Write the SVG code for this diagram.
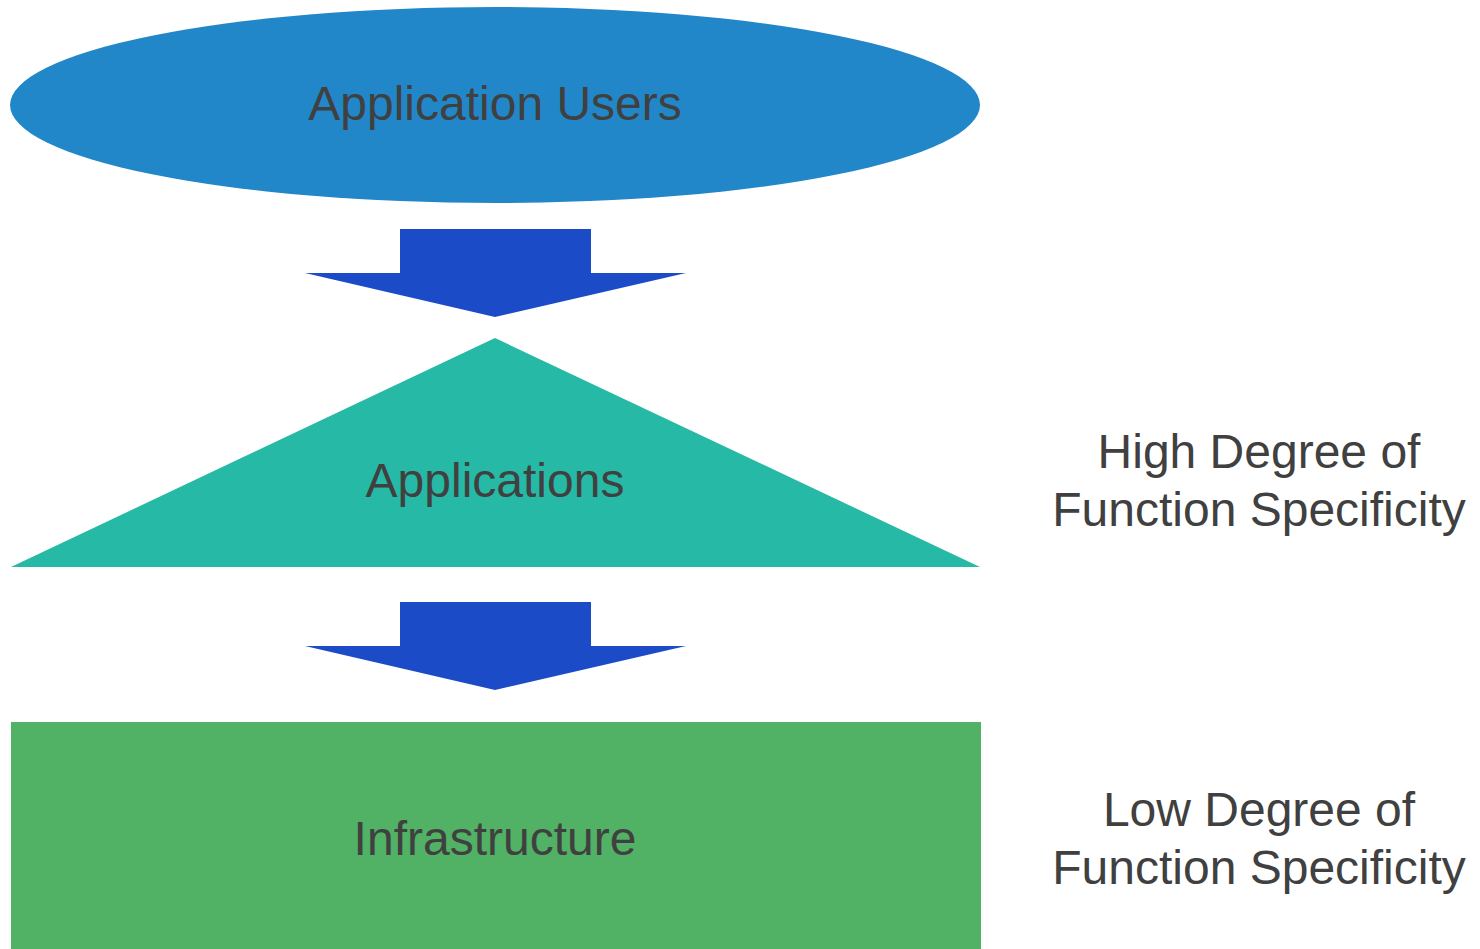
<svg xmlns="http://www.w3.org/2000/svg" width="1480" height="949" viewBox="0 0 1480 949">
<style>
text{font-family:"Liberation Sans",Arial,sans-serif;font-size:48px;fill:#404040;text-anchor:middle}
.arrow{fill:#1C4BC8}
</style>
<rect width="1480" height="949" fill="#fff"/>
<g id="users">
<ellipse cx="495" cy="105" rx="485" ry="98" fill="#2287C9"/>
<text x="495" y="120">Application Users</text>
</g>
<g id="applications">
<polygon points="495,338 980,567 11,567" fill="#26B9A6"/>
<text x="495" y="497">Applications</text>
</g>
<g id="infrastructure">
<rect x="11" y="722" width="970" height="227" fill="#51B165"/>
<text x="495" y="855">Infrastructure</text>
</g>
<g id="high-label">
<text x="1259" y="468">High Degree of</text>
<text x="1259" y="526">Function Specificity</text>
</g>
<g id="low-label">
<text x="1259" y="826">Low Degree of</text>
<text x="1259" y="884">Function Specificity</text>
</g>
<g id="connectors">
<polygon class="arrow" points="400,229 591,229 591,273 686,273 495,317 305,273 400,273"/>
<polygon class="arrow" points="400,602 591,602 591,646 686,646 495,690 305,646 400,646"/>
</g>
</svg>
